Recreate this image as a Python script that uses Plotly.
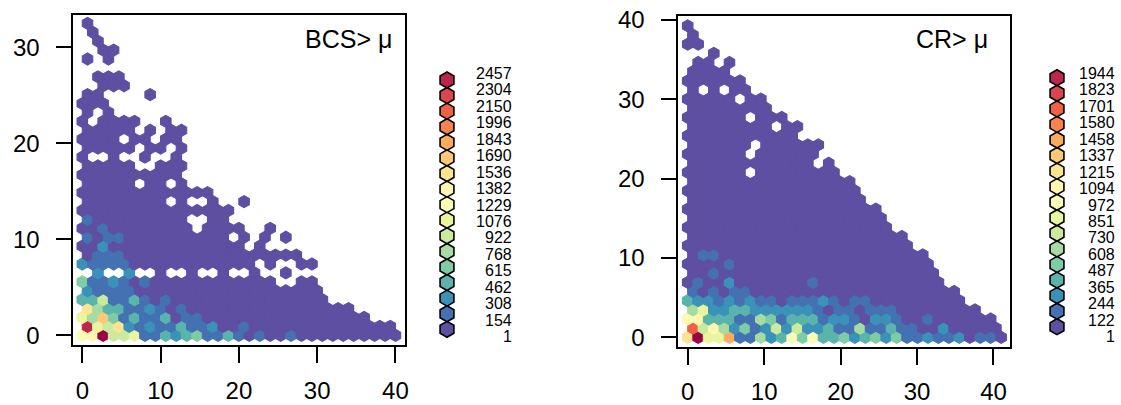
import plotly.graph_objects as go

W, H = 1121, 405

# Hexbin cell tables, bottom row first. Each character is one hexagon of the row:
# '.' is an empty cell, otherwise the colour class of the cell (0..9, a..h).
BCS_ROWS = [
    "89h667113234113101001" "0000000000",
    "g76a2121131120010" "0000000000000",
    "75b413113011" "0000000000000000",
    "a533112101" "0000000000000000",
    "336113101" "000000000000000",
    "21111" "000000000000000000",
    "4112101" "000000000000" ".." "00",
    ".2..2..0..0..0..0..0",
    "21111" "000000000000" ".0..00",
    "0111" "00000000000000000",
    "002" "0000000000000" ".0",
    "1011" "0000000000" ".0.0.0",
    "001" "00000000" "." "0000" "..0",
    "1" "000000000" ".." "00",
    "000000000000000",
    "00000000.0..0..0",
    "0000000000000",
    "00000.00.0",
    "0000000000",
    "00000..000",
    "0..0..0..0",
    "00000.00.0",
    "0000.00.00",
    "00000.0.00",
    "0.0000..0",
    "0.0",
    "000",
    "00....0",
    "..000",
    ".000",
    "",
    "0.0",
    "..00",
    ".0",
    ".0",
    "0",
]
CR_ROWS = [
    "ah77c11523" "8483342342" "4112112011" "0",
    "e695241262" "6223115113" "1100200000",
    "8933311541" "3331221022" "1001000000",
    "5722332222" "2210110111" "00000000",
    "3221212110" "11121011" "000000000",
    "101011" "00000000000000000000",
    "01002" "0000000" "1" "000000000000",
    "001" "000000000000000000000",
    "00001" "0000000000000000000",
    "011" "00000000000000000000",
    "0000000000000000000000",
    "000000000000000000000",
    "00000000000000000000",
    "0000000000000000000",
    "0000000000000000000",
    "00000000000000000",
    "00000000000000000",
    "0000000000000000",
    "000000.00000000",
    "000000000000.0",
    "000000.000000",
    "000000.000000",
    "00000000000",
    "00000000.00",
    "000000.000",
    "00000000",
    "00000.00",
    "0.0.00",
    "000000",
    "0000",
    ".00.0",
    "..0",
    "00",
    "0",
    "0",
]
BCS_LEGEND = [1, 154, 308, 462, 615, 768, 922, 1076, 1229, 1382, 1536, 1690, 1843, 1996, 2150, 2304, 2457]
CR_LEGEND = [1, 122, 244, 365, 487, 608, 730, 851, 972, 1094, 1215, 1337, 1458, 1580, 1701, 1823, 1944]
CLASS_KEYS = "0123456789abcdefgh"
PALETTE = [
    "#5E4FA2", "#4471B2", "#3B92B9", "#5AB4AB", "#7ECCA5", "#A7DBA4", "#CAEA9E", "#E9F69D", "#F8FCB4",
    "#FFF6B0", "#FEE491", "#FEC877", "#FCAA5F", "#F7844E", "#ED6246", "#DA464D", "#BE254A", "#9E0142",
]
X_TICKS = [0, 10, 20, 30, 40]
BCS_Y_TICKS = [0, 10, 20, 30]
CR_Y_TICKS = [0, 10, 20, 30, 40]


def px_x(p):
    return p / W


def px_y(p):
    return 1 - p / H


def cells(rows, dx, dy):
    xs, ys, cols = [], [], []
    for r, row in enumerate(rows):
        for k, ch in enumerate(row):
            if ch == ".":
                continue
            xs.append((k + (0.5 if r % 2 else 0)) * dx)
            ys.append(r * dy)
            cols.append(PALETTE[CLASS_KEYS.index(ch)])
    return xs, ys, cols


fig = go.Figure()

panels = [
    dict(rows=BCS_ROWS, dx=4 / 3, dy=0.928, sx="x", sy="y", name="xaxis", yname="yaxis",
         box=(73.3, 404.7, 14.5, 345.0), xr=(-1.15, 41.18), yr=(-1.01, 33.4), yt=BCS_Y_TICKS),
    dict(rows=CR_ROWS, dx=41 / 30, dy=1.155, sx="x2", sy="y2", name="xaxis2", yname="yaxis2",
         box=(678.3, 1010.3, 15.7, 346.7), xr=(-1.23, 42.2), yr=(-1.185, 40.55), yt=CR_Y_TICKS),
]
layout = {}
for p in panels:
    xs, ys, cols = cells(p["rows"], p["dx"], p["dy"])
    fig.add_trace(go.Scatter(
        x=xs, y=ys, mode="markers", xaxis=p["sx"], yaxis=p["sy"], showlegend=False, hoverinfo="skip",
        marker=dict(symbol="hexagon", size=12.1, color=cols, line=dict(width=1.1, color=cols)),
    ))
    l, r, t, b = p["box"]
    common = dict(showline=True, mirror=True, linecolor="black", linewidth=1.6, ticks="outside",
                  ticklen=16, tickwidth=1.6, tickcolor="black", showgrid=False, zeroline=False,
                  tickfont=dict(family="Liberation Sans", size=24, color="black"))
    layout[p["name"]] = dict(domain=[px_x(l), px_x(r)], range=list(p["xr"]), tickvals=X_TICKS,
                             anchor=p["sy"], ticklabelstandoff=7, **common)
    layout[p["yname"]] = dict(domain=[px_y(b), px_y(t)], range=list(p["yr"]), tickvals=p["yt"],
                              anchor=p["sx"], ticklabelstandoff=11, **common)

# Hexagon keys
annotations = []
keys = [
    dict(vals=BCS_LEGEND, sx="x3", sy="y3", xn="xaxis3", yn="yaxis3", cx=447.0, top=80.0, bottom=329.3, label_right=514.0),
    dict(vals=CR_LEGEND, sx="x4", sy="y4", xn="xaxis4", yn="yaxis4", cx=1057.0, top=77.7, bottom=326.7, label_right=1117.0),
]
for key in keys:
    n = len(key["vals"])
    dom_bot, dom_top = key["bottom"] + 20, key["top"] - 20
    fig.add_trace(go.Scatter(
        x=[0] * n, y=key["vals"], mode="markers", xaxis=key["sx"], yaxis=key["sy"], showlegend=False, hoverinfo="skip",
        marker=dict(symbol="hexagon", size=16, color=PALETTE[:n], line=dict(width=1.6, color="black")),
    ))
    vmin, vmax = key["vals"][0], key["vals"][-1]
    units = (vmax - vmin) / (key["bottom"] - key["top"])
    layout[key["xn"]] = dict(domain=[px_x(key["cx"] - 20), px_x(key["cx"] + 20)], range=[-1, 1], visible=False)
    layout[key["yn"]] = dict(domain=[px_y(dom_bot), px_y(dom_top)], visible=False,
                             range=[vmin - 20 * units, vmax + 20 * units])
    for i, v in enumerate(key["vals"]):
        annotations.append(dict(
            text=str(v), xref="paper", yref="paper", x=px_x(key["label_right"]),
            y=px_y(336.7 - i * (336.7 - 73.3) / (n - 1)), xanchor="right", yanchor="middle", showarrow=False,
            font=dict(family="Liberation Sans", size=16, color="black"),
        ))

for text, right in (("BCS> μ", 394.0), ("CR> μ", 990.0)):
    annotations.append(dict(
        text=text, xref="paper", yref="paper", x=px_x(right), y=px_y(39.0), xanchor="right", yanchor="middle",
        showarrow=False, font=dict(family="Liberation Sans", size=25, color="black"),
    ))

fig.update_layout(
    width=W, height=H, margin=dict(l=0, r=0, t=0, b=0, autoexpand=False), paper_bgcolor="white", plot_bgcolor="white",
    annotations=annotations, hovermode=False, **layout,
)
fig.write_html("out.html", config={"displayModeBar": False},
               post_script="document.body.style.margin='0';document.body.style.overflow='hidden';")
